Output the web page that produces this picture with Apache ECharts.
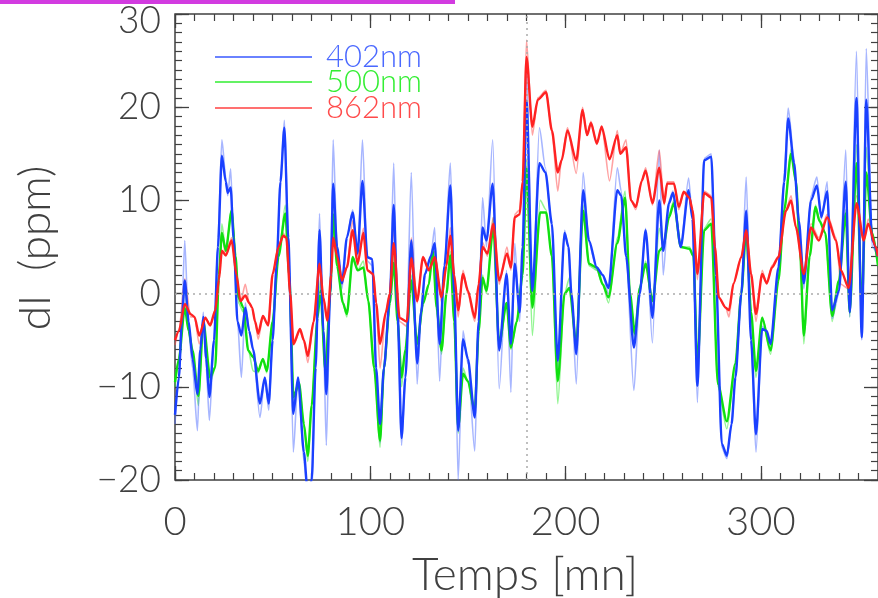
<!DOCTYPE html>
<html><head><meta charset="utf-8">
<script src="https://cdn.jsdelivr.net/npm/echarts@6/dist/echarts.min.js"></script>
<style>html,body{margin:0;padding:0;background:#fff}#c{width:878px;height:598px}</style>
</head><body><div id="c"></div>
<script>
// Blue 402nm: times (mn), smoothed values, raw values (ppm)
const bT=[0,2,3.5,5,7,9,11.5,13,14.5,16,17.6,20,22,24,26,27,28.5,30,32,34,36,38,40,43.5,46,48,50,52,54,56,58,60.6,63,66,68,70,72,74,76,77.5,79.5,81,83,85.5,88,91,93.5,96,98.5,101,103,105,107,110,112,114,116,118,121,124,126,128,131,133,135.5,138,141,143,145,147.5,150,153.5,155.5,157.5,159.5,162.7,166,169.8,172,174,176.5,178,180,183,186.6,189.7,193,196,199.5,201.5,203,205.5,209,212,216,219,222,226.5,228.5,231,235,238,241,244.5,248,250,253,255,259,263,265,267.5,271,274.6,277,280,282.6,285,287,290,292.5,295,297.5,300.7,303,305,309,312,314,317,319.5,322,325.7,328.7,331,334,336.5,340,343.5,345.5,349,351.7,354,357,360];
const bV=[-13,-9,-3,1.4,-3,-7,-10.8,-6,-2.5,-7,-11.1,-5,5,14.8,12,10.8,11.4,6,-3,-4.5,-1.5,-4,-6,-11.8,-9,-11.8,-5,3,12,17.8,6,-12.9,-9,-17,-21.5,-20,-8,6.8,-4,-10.8,0,11.8,5,1.1,6,8.7,4.3,12.1,3.9,3.7,-8,-14,-8,-0.4,9.5,-2,-15.5,-9,5.7,-7.5,-2,2.1,4,5.4,-5.4,3,11.6,0,-14.7,-4.9,-7,-13.3,-3,7.1,5.7,11.8,-6.1,2.1,-5.4,3.2,-2,5,20.7,0.3,14,13,7.5,-7.2,6.5,5,0,-6.5,11.1,5.7,2.8,2,0.6,11.1,10.5,4,-5.8,0,6.8,-2.6,10,4.6,9.7,10.8,5,11.1,8,-9.9,14.3,14.7,2,-16.1,-17.4,-14,-9,0,8.9,-5,-15.1,-3.8,-4,-5.4,2.8,12,18.8,14,7.8,1.1,10,11.6,8.2,11,-1.8,0.3,12,-2,21,-4.7,20.8,5.7,4];
const bR=[-14,-9,-2,5.7,-4,-8,-14.7,-6,-2,-8,-13.6,-5,6,16.5,12.5,10.5,13.4,6,-3,-9,-1,-4,-6,-13.3,-9,-12.5,-5,3,12,18.6,7,-17,-9,-18,-22,-22,-8,8.6,-5,-16.3,0,16.5,5,0.5,6,9,4,16.5,3.5,3,-9,-16,-8,-1,14,-3,-16.3,-9,13,-9.7,-2,2,4,7.1,-9.4,3,14,0,-20,-4,-7.5,-16.9,-3,10.3,5,16.5,-10.2,2.5,-10.6,5.4,-3,5,24.5,-1.5,17.8,13.5,7,-8,6.8,5,0,-9.7,13,5.5,2.5,2,0,13.5,11,4,-10.4,0,7,-5.3,15.4,2,10,11,5,12.4,8,-11.7,14.5,15,2,-16.5,-17.7,-14,-9,0,12.5,-5,-17,-3.5,-4,-5.5,2.5,13,19.9,14.5,7.5,0.5,10.5,12.5,8,12,-2.7,0,15.4,-2.5,26,-5,26.3,5,4];

// Green 500nm
const gT=[0,2,5,7,9,12,14.5,18,20.6,22.5,24,26,29,31,32.5,35,37.5,40,42.6,45,47,50,53,56.5,58.5,60.7,63.5,66,68,70,73,74.5,77,79.5,81,83,86,88,91,93.5,96.5,99,102,105,107,110,112,114,116,118,121,124,127,130,132,134,136.5,139,141,143,145,147.5,150,153.5,155.5,157.5,159.5,163,166,169.8,172,175,178,180,183,187,190,193,196,199.5,202,205.5,209,212,216,219,222,226.5,230.5,233,235.5,238,241,244.5,248,250,253,255.5,259,263.5,265.5,267.5,271,274.6,278,282.6,287,290,292.5,295,297.5,300.7,305,309,312,315.5,318,320,322,325,328,330,333,336.5,340,343.5,345.5,349,351.7,354,357,360];
const gV=[-9.5,-7,-1.5,-4,-6.1,-11,-3,-9,-7.9,2,6.5,4.6,8.9,4,-0.4,-1.5,-6.1,-6.8,-8.3,-7,-8.3,-3,4,8.6,2,-11.1,-9.6,-14,-17.4,-12,-2.6,0.3,-8.3,0,8.5,3,-1,-2.2,3.9,2.5,2.8,-0.8,-8,-15.8,-8,-1,3.3,-3,-9,-6,1.4,-5.4,-1.1,1,4.6,-1.5,-6.1,0,4.1,-3,-14.4,-8.6,-9.4,-12.6,-4,1.7,0.3,7.1,-5.4,-1,-5.8,-3,2,13.5,-1.5,8.7,8.7,4,-9.4,0,0.6,-5.4,8.9,3.2,2.8,1,-0.4,5.4,10.3,0,-4.3,0.6,3.2,-0.8,4.6,5,8.2,9.7,5,4.8,4,-7.7,6.8,7.5,-9.7,-13.7,-7.5,0,6.8,-2,-8.3,-2.6,-6.1,1.4,9,15,12,5,-4.5,4,9.3,7.8,6.5,-2.4,1.4,8.6,-2,14,-1.5,13,6.5,3];
const gR=[-10,-7,1,-4,-6.5,-12,-3,-9.5,-8,2,7.5,4.5,9.1,4,-1,-2,-6,-8.3,-8.5,-7,-8.5,-3,4,9.5,2,-11.5,-9.5,-14,-18,-12,-2.5,1.5,-9,0,10.3,3,-1,-2.5,4,2.5,3.5,-1,-8,-16.5,-8,-1,4.1,-3,-10,-6,2,-6,-1,1,5,-2,-6.5,0,4.5,-3,-15,-8,-9.5,-13,-4,2,0,8.2,-6,-1,-6,-3,2,14.5,-4.5,10,9,4,-11.8,0,1.7,-6,9.5,3,2.5,1,-1,6,11,0,-5,0.5,3.5,-1.5,7,5,8.5,10,5,5,4,-8,7,8,-10,-14.5,-7.5,0,7,-2,-9,-2.5,-6.5,1.5,9,15.5,12,5,-5.4,4,9.5,8,6.5,-3,1.5,9,-2.5,16,-2,15.7,6.5,3];

// Red 862nm
const rT=[0,2,5,8,10,12.4,15.5,18,20.6,22.5,24,26,29,31.5,33.5,36,38,39.5,41,42.6,45,47.7,50,53,55.4,57,59,60.7,64,66,68,71,74,76,78,80,81,83,85.5,88,91,93.5,96.5,98.5,101.5,103,105,108,110,112,115,118.7,121,124,127,130,133,136.5,139,141,143,145,147.5,150,153.5,155.5,157.5,160,163,166,170,172,174,176.5,178,180,183,185.8,190,193,196,198,201,205.5,208.7,211,213,216,218.5,222.5,226.5,228,231,233.5,236,239,241,244.5,248,250.5,252,255.5,258,260.5,263.4,265,267.5,271,274.6,276.5,278.5,282,283.7,286,290,292.5,295,297.5,300.7,303,305.7,309,312.9,315.5,318,322,325.7,329.7,334,338.5,341,345,349,352.7,355,358.9,360];
const rV=[-5,-4,-1.1,-2.2,-2.5,-4.5,-2.6,-3.4,-1.8,1.5,4.6,4.1,5.7,2,-0.8,-0.2,-1,-1.5,-3,-4.3,-2.4,-3.4,2.1,5,6.2,6,0,-5.4,-3.8,-5,-6.7,-3,3.2,-0.4,-2.9,2,6,4,1.4,2.8,6.8,3.2,6.5,2.5,2.1,-1,-5.4,-2,0,5.4,-2.6,-3,3.8,-0.8,3.9,2.5,3.9,-0.4,3,6.2,2,-1.8,2.1,0.3,-2.6,1,5,4.3,7.5,1.4,4.3,2.8,8.2,8.5,12,25.4,17.9,20.8,21.6,17.5,13,14.3,17.5,14.3,19.7,17,18.3,16.1,17.9,14.4,17,15,15.7,10,9.3,12.1,13.2,9.7,13.5,9.7,11.8,11.8,9.3,10.9,10.3,9,2.1,10.8,10.3,5,-0.4,-1.5,-1.8,1.1,3.9,6.8,2.1,-2.2,2.1,1.1,2.8,3.9,8.9,10,7.1,2.1,7.1,5.7,8.2,5.7,2.5,0.6,9.7,5.7,7.5,5,4];
const rR=[-5.5,-4,1.6,-2.5,-2.5,-5.4,-2.5,-3.5,-2,2,6.5,4,6,2,-1,1,-1,-1.5,-3,-4.9,-2.5,-3.5,2,5,6.5,6,0,-5.5,-4,-5,-7.4,-3,3.5,-0.5,-3,2,6.5,4,1,3,7.8,3,7,2.5,2,-1,-8,-2,0,7,-3,-3.5,6,-1,4,2.5,4.5,-1,3,7.1,2,-2.5,2.5,0,-3,1,5.5,4,8.2,1,5,2.5,8.5,9,12,27.2,17,21,21.8,17.5,11,14.5,17.8,12.9,20,17,18.5,16,18,12.1,17.5,15,16.5,10,9,12,13.5,9.5,15.4,9.5,12,12,9,11,10.5,9,1.5,11,10.5,5,-0.5,-1.5,-2.5,1,4,7,2,-3,2.5,1,3,4,9,10.5,7,2,7.5,6,8.5,6,1,0.5,10.5,5.5,8,5,4];

const legendNames=['402nm','500nm','862nm'];
const markX=180;

const zip=(t,v)=>t.map((x,i)=>[x,v[i]]);
const font='Lato, "Open Sans", sans-serif';
const ink='#404040';

function line(data,color,width,z){
  return {type:'line',data:data,showSymbol:false,symbol:'none',smooth:0.25,smoothMonotone:'x',
    lineStyle:{color:color,width:width},z:z,silent:true,animation:false,clip:true};
}
const chart=echarts.init(document.getElementById('c'),null,{renderer:'canvas'});
const series=[
  line(zip(gT,gR),'rgba(40,235,40,0.5)',1.6,2),
  line(zip(bT,bR),'rgba(80,110,255,0.5)',1.6,2),
  line(zip(rT,rR),'rgba(255,70,70,0.5)',1.6,2),
  line(zip(gT,gV),'#10e010',2.4,3),
  line(zip(bT,bV),'#1a40ff',2.4,4),
  line(zip(rT,rV),'#ff2222',2.4,5),
];
series[0].markLine={silent:true,symbol:'none',label:{show:false},
  lineStyle:{color:'#aaaaaa',type:[2,4],width:1.5},
  data:[{xAxis:markX},{yAxis:0}]};

const tk=(len,w)=>({inside:true,length:len,lineStyle:{color:ink,width:w}});
const xBase={type:'value',min:0,max:360,axisLine:{show:false,onZero:false},splitLine:{show:false},axisLabel:{show:false}};
const yBase={type:'value',min:-20,max:30,axisLine:{show:false,onZero:false},splitLine:{show:false},axisLabel:{show:false}};
const yLabStyle={fontSize:37,color:ink,fontFamily:font,fontWeight:300};
chart.setOption({
  animation:false,
  grid:{left:175,top:14,width:703,height:466,show:true,borderColor:ink,borderWidth:1.5,backgroundColor:'transparent'},
  xAxis:[
    Object.assign({},xBase,{position:'bottom',interval:100,axisTick:tk(14,1.3),
      axisLabel:{show:true,fontSize:40,color:ink,fontFamily:font,fontWeight:300,margin:22,showMaxLabel:false}}),
    Object.assign({},xBase,{position:'bottom',interval:10,axisTick:tk(7,1.2)}),
    Object.assign({},xBase,{position:'top',interval:100,axisTick:tk(14,1.3)}),
    Object.assign({},xBase,{position:'top',interval:10,axisTick:tk(7,1.2)})
  ],
  yAxis:[
    Object.assign({},yBase,{position:'left',interval:10,axisTick:tk(14,1.3),
      axisLabel:Object.assign({show:true,margin:14,
        formatter:v=>{const s=v<0?'\u2212'+Math.abs(v):String(v);return v===30?'{top|'+s+'}':s;},
        rich:{top:Object.assign({padding:[14,0,0,0]},yLabStyle)}},yLabStyle)}),
    Object.assign({},yBase,{position:'left',interval:1,axisTick:tk(7,1.2)}),
    Object.assign({},yBase,{position:'right',interval:10,axisTick:tk(14,1.3)}),
    Object.assign({},yBase,{position:'right',interval:1,axisTick:tk(7,1.2)})
  ],
  series:series,
  graphic:[
    {type:'rect',shape:{x:0,y:0,width:455,height:4},style:{fill:'#d23be0'}},
    {type:'text',x:36,y:248,rotation:Math.PI/2,style:{text:'dI  (ppm)',font:'300 44px '+font,fill:ink,textAlign:'center',textVerticalAlign:'middle'}},
    {type:'text',x:525,y:575,style:{text:'Temps [mn]',font:'300 46px '+font,fill:ink,textAlign:'center',textVerticalAlign:'middle'}},
    {type:'line',shape:{x1:215,y1:57,x2:312,y2:57},style:{stroke:'#3858ff',lineWidth:1.5}},
    {type:'line',shape:{x1:215,y1:82,x2:312,y2:82},style:{stroke:'#30ee30',lineWidth:1.5}},
    {type:'line',shape:{x1:215,y1:108,x2:312,y2:108},style:{stroke:'#ff4040',lineWidth:1.5}},
    {type:'text',x:326,y:57,style:{text:legendNames[0],font:'300 31px '+font,fill:'#4a68ff',textVerticalAlign:'middle'}},
    {type:'text',x:326,y:82,style:{text:legendNames[1],font:'300 31px '+font,fill:'#33ee33',textVerticalAlign:'middle'}},
    {type:'text',x:326,y:108,style:{text:legendNames[2],font:'300 31px '+font,fill:'#ff4a4a',textVerticalAlign:'middle'}}
  ]
});
</script></body></html>
